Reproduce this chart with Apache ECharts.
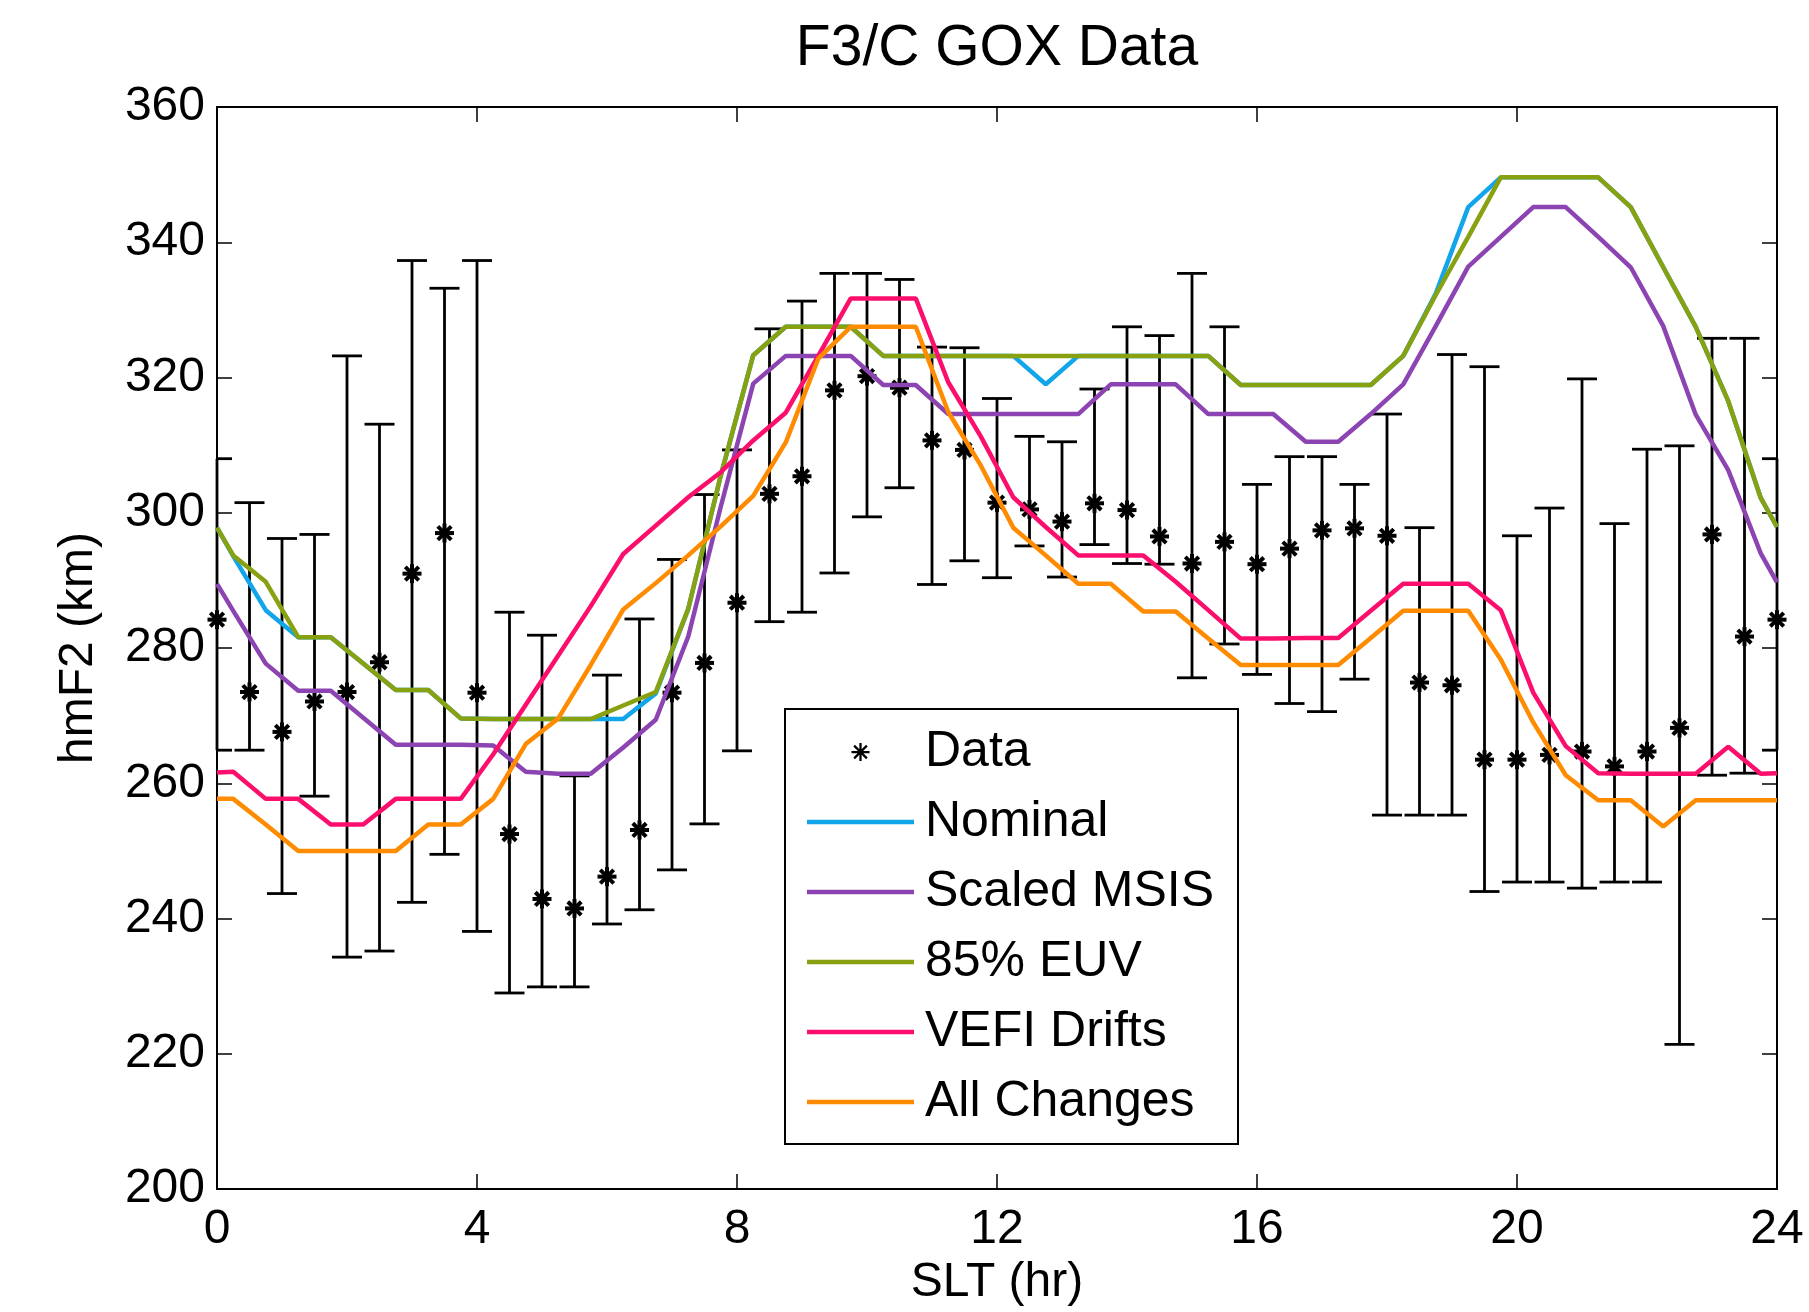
<!DOCTYPE html>
<html>
<head>
<meta charset="utf-8">
<title>F3/C GOX Data</title>
<script src="https://cdn.jsdelivr.net/npm/echarts@6/dist/echarts.min.js"></script>
<style>
  html, body { margin: 0; padding: 0; background: #fff; }
  #chart { width: 1809px; height: 1312px; }
</style>
</head>
<body>
<div id="chart"></div>
<script>
// observed hmF2 (km), one point every half hour of SLT
const dataHours = [0, 0.5, 1, 1.5, 2, 2.5, 3, 3.5, 4, 4.5, 5, 5.5, 6, 6.5, 7, 7.5, 8, 8.5, 9, 9.5,
  10, 10.5, 11, 11.5, 12, 12.5, 13, 13.5, 14, 14.5, 15, 15.5, 16, 16.5, 17, 17.5, 18, 18.5, 19, 19.5,
  20, 20.5, 21, 21.5, 22, 22.5, 23, 23.5, 24];
const dataValue = [284.2, 273.5, 267.6, 272.1, 273.5, 277.9, 291.0, 297.0, 273.4, 252.5, 242.9, 241.5, 246.2, 253.1, 273.4, 277.8, 286.7, 302.8, 305.4, 318.1,
  320.2, 318.5, 310.7, 309.3, 301.5, 300.5, 298.7, 301.4, 300.4, 296.5, 292.5, 295.7, 292.4, 294.7, 297.4, 297.7, 296.6, 274.9, 274.5, 263.5,
  263.5, 264.2, 264.7, 262.5, 264.7, 268.2, 296.8, 281.7, 284.2];
const dataLow = [264.9, 264.9, 243.7, 258.1, 234.3, 235.2, 242.4, 249.5, 238.1, 229.0, 229.9, 229.9, 239.2, 241.3, 247.2, 254.0, 264.8, 283.9, 285.3, 291.1,
  299.4, 303.7, 289.4, 292.9, 290.4, 295.1, 290.5, 295.3, 292.5, 292.4, 275.6, 280.6, 276.1, 271.8, 270.6, 275.4, 255.3, 255.3, 255.3, 244.0,
  245.4, 245.4, 244.5, 245.4, 245.4, 221.4, 261.2, 261.5, 264.9];
const dataHigh = [308.0, 301.5, 296.2, 296.8, 323.2, 313.1, 337.3, 333.2, 337.3, 285.3, 281.9, 261.1, 276.0, 284.3, 293.1, 302.7, 309.3, 327.2, 331.3, 335.4,
  335.4, 334.5, 324.5, 324.4, 316.9, 311.3, 310.5, 318.3, 327.5, 326.2, 335.4, 327.5, 304.2, 308.3, 308.3, 304.2, 314.6, 297.8, 323.4, 321.6,
  296.6, 300.7, 319.8, 298.4, 309.4, 309.9, 325.8, 325.8, 308.0];

// model runs
const modelHours = [0, 0.25, 0.75, 1.25, 1.75, 2.25, 2.75, 3.25, 3.75, 4.25, 4.75, 5.25, 5.75, 6.25, 6.75, 7.25, 7.75, 8.25, 8.75, 9.25,
  9.75, 10.25, 10.75, 11.25, 11.75, 12.25, 12.75, 13.25, 13.75, 14.25, 14.75, 15.25, 15.75, 16.25, 16.75, 17.25, 17.75, 18.25, 18.75, 19.25,
  19.75, 20.25, 20.75, 21.25, 21.75, 22.25, 22.75, 23.25, 23.75, 24];
const nominal = [297.8, 293.6, 285.6, 281.6, 281.6, 277.7, 273.8, 273.8, 269.6, 269.5,
  269.5, 269.5, 269.5, 269.5, 273.3, 285.8, 305.5, 323.3, 327.5, 327.5,
  327.5, 323.2, 323.2, 323.2, 323.2, 323.2, 319.0, 323.2, 323.2, 323.2,
  323.2, 323.2, 318.9, 318.9, 318.9, 318.9, 318.9, 323.2, 332.4, 345.2,
  349.6, 349.6, 349.6, 349.6, 345.2, 336.3, 327.5, 316.5, 302.2, 297.9];
const scaledMsis = [289.5, 285.5, 277.7, 273.7, 273.7, 269.7, 265.7, 265.7, 265.7, 265.6,
  261.7, 261.4, 261.4, 265.3, 269.4, 281.7, 300.9, 319.1, 323.2, 323.2,
  323.2, 318.9, 318.9, 314.6, 314.6, 314.6, 314.6, 314.6, 319.0, 319.0,
  319.0, 314.6, 314.6, 314.6, 310.5, 310.5, 314.6, 319.0, 327.6, 336.4,
  340.8, 345.2, 345.2, 340.8, 336.3, 327.6, 314.5, 306.3, 294.0, 289.7];
const euv85 = [297.8, 293.7, 289.8, 281.6, 281.6, 277.7, 273.8, 273.8, 269.6, 269.5,
  269.5, 269.5, 269.5, 271.5, 273.5, 285.8, 305.5, 323.3, 327.5, 327.5,
  327.5, 323.2, 323.2, 323.2, 323.2, 323.2, 323.2, 323.2, 323.2, 323.2,
  323.2, 323.2, 318.9, 318.9, 318.9, 318.9, 318.9, 323.2, 332.2, 340.8,
  349.6, 349.6, 349.6, 349.6, 345.2, 336.3, 327.5, 316.5, 302.2, 297.9];
const vefiDrifts = [261.6, 261.7, 257.7, 257.7, 253.9, 253.9, 257.7, 257.7, 257.7, 264.3,
  271.6, 278.9, 286.2, 293.9, 298.1, 302.3, 306.0, 310.7, 314.8, 323.2,
  331.7, 331.7, 331.7, 319.3, 311.3, 302.3, 297.9, 293.7, 293.7, 293.7,
  289.8, 285.6, 281.4, 281.4, 281.5, 281.5, 285.5, 289.5, 289.5, 289.5,
  285.6, 273.4, 265.5, 261.5, 261.4, 261.4, 261.4, 265.4, 261.4, 261.5];
const allChanges = [257.7, 257.7, 253.9, 250.0, 250.0, 250.0, 250.0, 253.9, 253.9, 257.7,
  265.8, 269.6, 277.5, 285.7, 289.6, 293.7, 298.0, 302.5, 310.4, 322.8,
  327.5, 327.5, 327.5, 314.9, 307.0, 297.8, 293.7, 289.5, 289.5, 285.4,
  285.4, 281.4, 277.5, 277.5, 277.5, 277.5, 281.5, 285.5, 285.5, 285.5,
  278.3, 269.0, 261.2, 257.5, 257.5, 253.6, 257.5, 257.5, 257.5, 257.5];

const models = [
  { name: 'Nominal', values: nominal, color: '#12a5ea' },
  { name: 'Scaled MSIS', values: scaledMsis, color: '#8c44b2' },
  { name: '85% EUV', values: euv85, color: '#87a110' },
  { name: 'VEFI Drifts', values: vefiDrifts, color: '#fb0e6c' },
  { name: 'All Changes', values: allChanges, color: '#ff8b00' }
];

const font = '"Liberation Sans", Arial, Helvetica, sans-serif';
const starIcon = 'path://M8.75,0L11.25,0L11.25,20L8.75,20Z M0,8.75L20,8.75L20,11.25L0,11.25Z ' +
  'M3.81,2.05L17.95,16.19L16.19,17.95L2.05,3.81Z M16.19,2.05L17.95,3.81L3.81,17.95L2.05,16.19Z';
const lineIcon = 'path://M0,0L107,0L107,4.5L0,4.5Z';

// error bar with caps plus an asterisk marker
function renderDataPoint(params, api) {
  const x = api.value(0);
  const mid = api.coord([x, api.value(1)]);
  const low = api.coord([x, api.value(2)]);
  const high = api.coord([x, api.value(3)]);
  const cs = params.coordSys;
  const capL = Math.max(cs.x, mid[0] - 15);
  const capR = Math.min(cs.x + cs.width, mid[0] + 15);
  const bar = { stroke: '#000', lineWidth: 2.8 };
  const star = { stroke: '#000', lineWidth: 4 };
  const r = 9.5, d = r * Math.SQRT1_2;
  const seg = (x1, y1, x2, y2, style) => ({ type: 'line', shape: { x1, y1, x2, y2 }, style });
  return {
    type: 'group',
    children: [
      seg(mid[0], high[1], mid[0], low[1], bar),
      seg(capL, high[1], capR, high[1], bar),
      seg(capL, low[1], capR, low[1], bar),
      seg(mid[0] - r, mid[1], mid[0] + r, mid[1], star),
      seg(mid[0], mid[1] - r, mid[0], mid[1] + r, star),
      seg(mid[0] - d, mid[1] - d, mid[0] + d, mid[1] + d, star),
      seg(mid[0] - d, mid[1] + d, mid[0] + d, mid[1] - d, star)
    ]
  };
}

const chart = echarts.init(document.getElementById('chart'));

const frameLine = { show: true, onZero: false, lineStyle: { color: '#000', width: 2 } };
const innerTick = { show: true, inside: true, length: 15, lineStyle: { color: '#000', width: 1.5 } };

chart.setOption({
  animation: false,
  backgroundColor: '#fff',
  title: {
    text: 'F3/C GOX Data',
    left: 997,
    top: 21,
    padding: 0,
    textAlign: 'center',
    textStyle: { fontSize: 57, fontWeight: 'normal', color: '#000', fontFamily: font }
  },
  grid: { left: 217, right: 32, top: 107, bottom: 120 },
  xAxis: [
    {
      type: 'value', min: 0, max: 24, interval: 4, position: 'bottom',
      name: 'SLT (hr)', nameLocation: 'middle', nameGap: 67,
      nameTextStyle: { fontSize: 48, color: '#000', fontFamily: font },
      axisLine: frameLine, axisTick: innerTick,
      axisLabel: { fontSize: 48, color: '#000', margin: 17, fontFamily: font },
      splitLine: { show: false }
    },
    {
      type: 'value', min: 0, max: 24, interval: 4, position: 'top',
      axisLine: frameLine, axisTick: innerTick,
      axisLabel: { show: false }, splitLine: { show: false }
    }
  ],
  yAxis: [
    {
      type: 'value', min: 200, max: 360, interval: 20, position: 'left',
      name: 'hmF2 (km)', nameLocation: 'middle', nameGap: 114,
      nameTextStyle: { fontSize: 48, color: '#000', fontFamily: font },
      axisLine: frameLine, axisTick: innerTick,
      axisLabel: { fontSize: 48, color: '#000', margin: 12, fontFamily: font },
      splitLine: { show: false }
    },
    {
      type: 'value', min: 200, max: 360, interval: 20, position: 'right',
      axisLine: frameLine, axisTick: innerTick,
      axisLabel: { show: false }, splitLine: { show: false }
    }
  ],
  legend: {
    orient: 'vertical',
    left: 785,
    top: 709,
    padding: [15, 24, 14, 22],
    itemGap: 14,
    itemWidth: 107,
    itemHeight: 18,
    selectedMode: false,
    backgroundColor: '#fff',
    borderColor: '#000',
    borderWidth: 2,
    borderRadius: 0,
    textStyle: { fontSize: 50, color: '#000', lineHeight: 56, padding: [0, 0, 0, 6], fontFamily: font },
    data: [{ name: 'Data', icon: starIcon }].concat(models.map(m => ({ name: m.name, icon: lineIcon })))
  },
  series: [
    {
      name: 'Data',
      type: 'custom',
      clip: false,
      silent: true,
      itemStyle: { color: '#000' },
      encode: { x: 0, y: [1, 2, 3] },
      data: dataHours.map((h, i) => [h, dataValue[i], dataLow[i], dataHigh[i]]),
      renderItem: renderDataPoint
    }
  ].concat(models.map(m => ({
    name: m.name,
    type: 'line',
    symbol: 'none',
    silent: true,
    color: m.color,
    itemStyle: { color: m.color },
    lineStyle: { color: m.color, width: 4.5 },
    data: modelHours.map((h, i) => [h, m.values[i]])
  })))
});
</script>
</body>
</html>
